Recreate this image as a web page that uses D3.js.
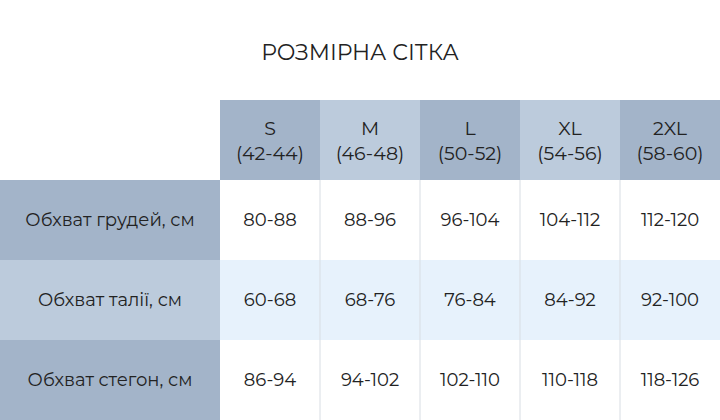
<!DOCTYPE html><html><head><meta charset="utf-8">
<script src="https://cdn.jsdelivr.net/npm/d3@7"></script>
<style>body{margin:0;background:#fff}</style></head><body>
<svg id="c" width="720" height="420"></svg>
<script>
const title = "РОЗМІРНА СІТКА";
const sizes = ["S","M","L","XL","2XL"];
const sizeRanges = ["(42-44)","(46-48)","(50-52)","(54-56)","(58-60)"];
const measures = ["Обхват грудей, см","Обхват талії, см","Обхват стегон, см"];
const chest = ["80-88","88-96","96-104","104-112","112-120"];
const waist = ["60-68","68-76","76-84","84-92","92-100"];
const hips = ["86-94","94-102","102-110","110-118","118-126"];
const values = [chest, waist, hips];

const svg = d3.select("#c");
const font = "Montserrat, Inter, 'Open Sans', sans-serif";
const dark = "#a3b4c9", light = "#bccbdc", stripe = "#e7f2fc", text = "#222";
const x = d3.scaleBand().domain(sizes).range([220,720]);
const y = d3.scaleBand().domain(measures).range([180,420]);

svg.append("text").attr("x",360).attr("y",60).attr("text-anchor","middle")
  .attr("font-family",font).attr("font-size",22).attr("fill",text).text(title);

// header
sizes.forEach((s,i)=>{
  svg.append("rect").attr("x",x(s)).attr("y",100).attr("width",x.bandwidth()).attr("height",80)
    .attr("fill", i%2===0?dark:light);
  const cx = x(s)+x.bandwidth()/2;
  svg.append("text").attr("x",cx).attr("y",135).attr("text-anchor","middle").attr("font-family",font)
    .attr("font-size",19).attr("fill",text).text(s);
  svg.append("text").attr("x",cx).attr("y",160).attr("text-anchor","middle").attr("font-family",font)
    .attr("font-size",19).attr("fill",text).text(sizeRanges[i]);
});
// rows
measures.forEach((m,r)=>{
  const yy = y(m), h = y.bandwidth();
  svg.append("rect").attr("x",0).attr("y",yy).attr("width",220).attr("height",h).attr("fill", r%2===0?dark:light);
  if(r===1) svg.append("rect").attr("x",220).attr("y",yy).attr("width",500).attr("height",h).attr("fill",stripe);
  svg.append("text").attr("x",110).attr("y",yy+h/2+6).attr("text-anchor","middle").attr("font-family",font)
    .attr("font-size",18).attr("fill",text).text(m);
  sizes.forEach((s,i)=>{
    svg.append("text").attr("x",x(s)+x.bandwidth()/2).attr("y",yy+h/2+6).attr("text-anchor","middle")
      .attr("font-family",font).attr("font-size",18).attr("fill",text).text(values[r][i]);
  });
});
// vertical separators
sizes.slice(1).forEach(s=>{
  svg.append("line").attr("x1",x(s)).attr("x2",x(s)).attr("y1",180).attr("y2",420)
    .attr("stroke","#d8dde3").attr("stroke-width",1);
});
</script></body></html>
